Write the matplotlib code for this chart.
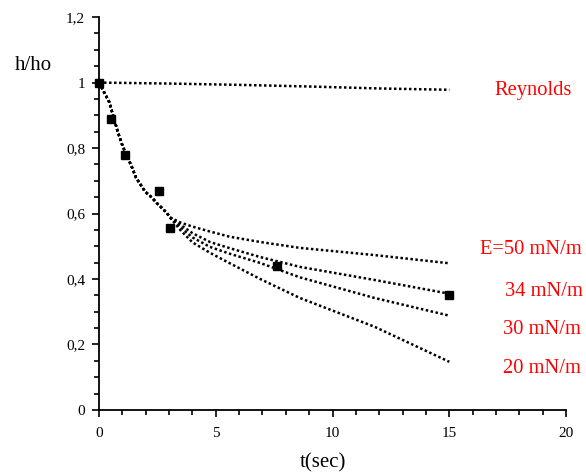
import matplotlib
matplotlib.use("Agg")
import matplotlib.pyplot as plt
from matplotlib.ticker import MultipleLocator, FuncFormatter

plt.rcParams['font.family'] = ['Liberation Serif', 'DejaVu Serif']

# Data
t_common = [0.0, 0.44, 0.8, 1.01, 1.43, 1.58, 1.8, 1.97, 2.26, 2.47, 2.69, 2.9, 3.04]
h_common = [1.0, 0.94, 0.85, 0.806, 0.738, 0.71, 0.686, 0.667, 0.649, 0.632, 0.617, 0.602, 0.588]

t_tail = [3.5, 4.0, 4.75, 5.6, 6.9, 8.6, 11.8, 15.0]
h_e50 = [0.572, 0.560, 0.545, 0.529, 0.513, 0.495, 0.473, 0.448]
h_e34 = [0.565, 0.540, 0.513, 0.494, 0.467, 0.437, 0.397, 0.355]
h_e30 = [0.557, 0.527, 0.498, 0.477, 0.449, 0.405, 0.342, 0.288]
h_e20 = [0.548, 0.512, 0.480, 0.448, 0.400, 0.342, 0.254, 0.147]

t_rey = [0.0, 3.0, 6.0, 9.0, 12.0, 15.0]
h_rey = [1.0, 0.997, 0.993, 0.988, 0.982, 0.978]

t_exp = [0.0, 0.53, 1.1, 2.57, 3.06, 7.6, 15.0]
h_exp = [1.0, 0.89, 0.78, 0.669, 0.557, 0.44, 0.35]

curve_labels = ["Reynolds", "E=50 mN/m", "34 mN/m", "30 mN/m", "20 mN/m"]
label_t = [18.61, 18.50, 19.06, 18.97, 18.97]
label_h = [0.977, 0.489, 0.363, 0.247, 0.128]

fig = plt.figure(figsize=(5.86, 4.75), dpi=100)
ax = fig.add_axes([0.169, 0.137, 0.797, 0.827])

ls = (0, (1, 1))
ax.plot(t_rey, h_rey, color='black', lw=1.8, linestyle=ls)
for hs in [h_e50, h_e34, h_e30, h_e20]:
    ax.plot(t_common + t_tail, h_common + hs, color='black', lw=1.8, linestyle=ls)

ax.plot(t_exp, h_exp, linestyle='none', marker='s', markersize=6,
        color='black', clip_on=False, zorder=5)

for lab, tx, hy in zip(curve_labels, label_t, label_h):
    ax.text(tx, hy, lab, color='red', fontsize=14.8, ha='center', va='center',
            clip_on=False)

ax.set_xlim(0, 20)
ax.set_ylim(0, 1.2)
ax.spines['top'].set_visible(False)
ax.spines['right'].set_visible(False)
ax.spines['left'].set_linewidth(1.3)
ax.spines['bottom'].set_linewidth(1.3)

ax.xaxis.set_major_locator(MultipleLocator(5))
ax.xaxis.set_minor_locator(MultipleLocator(1))
ax.yaxis.set_major_locator(MultipleLocator(0.2))
ax.yaxis.set_minor_locator(MultipleLocator(0.05))

fmt = FuncFormatter(lambda v, p: ('%g' % round(v, 3)).replace('.', ','))
ax.xaxis.set_major_formatter(fmt)
ax.yaxis.set_major_formatter(fmt)

ax.tick_params(which='major', direction='out', length=5, width=1.2,
               labelsize=11, pad=5)
ax.tick_params(which='minor', direction='out', length=3.5, width=1.2)
ax.tick_params(axis='x', which='major', pad=7)

fig.text(33 / 586, 1 - 65 / 475, "h/ho", fontsize=15, ha='center', va='center')
fig.text(322.5 / 586, 1 - 463 / 475, "t(sec)", fontsize=15, ha='center', va='center')

fig.savefig("out.png", dpi=100)
